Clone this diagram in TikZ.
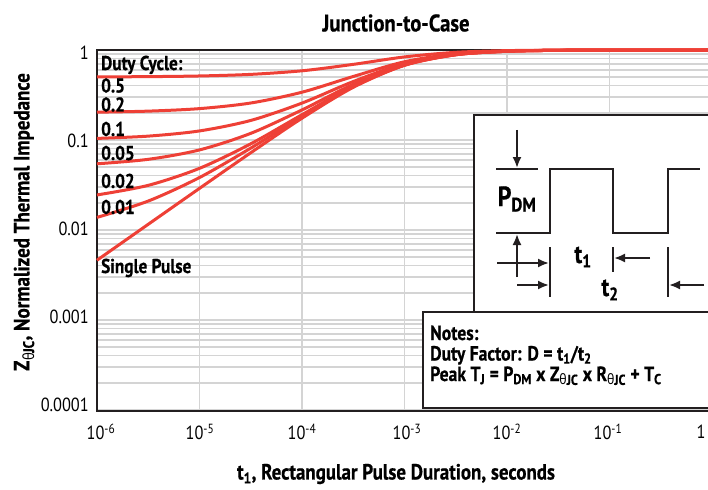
\documentclass[tikz,border=0pt]{standalone}
\usepackage{fontspec}
\setmainfont{PT Sans}[FakeStretch=0.86, BoldFeatures={FakeBold=0.6}]
\newfontfamily\grkfont{Noto Sans}[FakeStretch=0.86]
\usetikzlibrary{arrows.meta}
\definecolor{zred}{RGB}{238,64,54}
\definecolor{zgrid}{RGB}{212,212,212}
\definecolor{zblack}{RGB}{35,31,32}
\newcommand{\thjc}{\textsubscript{{\grkfont θ}JC}}

\begin{document}
\begin{tikzpicture}[x=1pt, y=-1pt,
    every node/.style={inner sep=0pt, font=\bfseries\fontsize{22}{24}\selectfont},
    tick/.style={font=\fontsize{19}{22}\selectfont},
    lbl/.style={anchor=base west, font=\bfseries\fontsize{20}{22}\selectfont},
    note/.style={anchor=base west, font=\bfseries\fontsize{20.5}{22}\selectfont},
    curve/.style={draw=zred, line width=3pt},
    gridline/.style={draw=zgrid, line width=1.3pt},
    frame/.style={draw=zblack, line width=2.6pt},
    box/.style={draw=zblack, fill=white, line width=2.4pt},
    wave/.style={draw=zblack, line width=2pt},
    dim/.style={->, >={Latex[length=11pt,width=9pt]}, draw=zblack, line width=2pt}]
\useasboundingbox (0,0) rectangle (708,489);
\clip (0,0) rectangle (708,489);

\begin{scope}[xshift=97pt, yshift=-50pt, x=102.5pt, y=90pt]
  \foreach \k in {1,...,4}
    \foreach \m in {1,...,9}
      \draw[gridline] (0,{log10(\m)-\k}) -- (6,{log10(\m)-\k});
  \foreach \e in {1,...,5}
    \draw[gridline] (\e,0) -- (\e,-4);
  \draw[frame] (6,0) -- (0,0) -- (0,-4.01) -- (6,-4.01);
  % duty cycle 0.5, 0.2, 0.1, 0.05, 0.02, 0.01, single pulse
  \draw[curve] plot[smooth] coordinates {(0,-0.2990) (0.5,-0.2960) (1,-0.2886) (1.5,-0.2708) (2,-0.2311) (2.5,-0.1597) (3,-0.0770) (3.5,-0.0258) (4,-0.0071) (4.5,-0.0018) (5,-0.0004) (6,0)};
  \draw[curve] plot[smooth] coordinates {(0,-0.6910) (0.5,-0.6793) (1,-0.6513) (1.5,-0.5889) (2,-0.4689) (2.5,-0.2943) (3,-0.1307) (3.5,-0.0420) (4,-0.0114) (4.5,-0.0030) (5,-0.0007) (6,0)};
  \draw[curve] plot[smooth] coordinates {(0,-0.9823) (0.5,-0.9569) (1,-0.8992) (1.5,-0.7827) (2,-0.5898) (2.5,-0.3504) (3,-0.1502) (3.5,-0.0475) (4,-0.0129) (4.5,-0.0033) (5,-0.0008) (6,0)};
  \draw[curve] plot[smooth] coordinates {(0,-1.2645) (0.5,-1.2147) (1,-1.1103) (1.5,-0.9261) (2,-0.6658) (2.5,-0.3815) (3,-0.1602) (3.5,-0.0503) (4,-0.0136) (4.5,-0.0035) (5,-0.0008) (6,0)};
  \draw[curve] plot[smooth] coordinates {(0,-1.6105) (0.5,-1.5038) (1,-1.3148) (1.5,-1.0423) (2,-0.7187) (2.5,-0.4012) (3,-0.1664) (3.5,-0.0520) (4,-0.0140) (4.5,-0.0036) (5,-0.0009) (6,0)};
  \draw[curve] plot[smooth] coordinates {(0,-1.8600) (0.5,-1.6783) (1,-1.4170) (1.5,-1.0902) (2,-0.7379) (2.5,-0.4080) (3,-0.1685) (3.5,-0.0526) (4,-0.0142) (4.5,-0.0037) (5,-0.0009) (6,0)};
  \draw[curve] plot[smooth] coordinates {(0,-2.3360) (0.5,-1.9364) (1,-1.5374) (1.5,-1.1417) (2,-0.7579) (2.5,-0.4148) (3,-0.1705) (3.5,-0.0532) (4,-0.0143) (4.5,-0.0037) (5,-0.0009) (6,0)};
\end{scope}

\node[font=\bfseries\fontsize{24}{26}\selectfont] (title) at (396,23) {Junction-to-Case};
\node[rotate=90] (ylab) at (24,222) {Z\thjc, Normalized Thermal Impedance};
\node (xlab) at (396,474) {t\textsubscript{1}, Rectangular Pulse Duration, seconds};

\foreach \v/\lab in {0/1, 1/0.1, 2/0.01, 3/0.001, 4/0.0001}
  \node[tick, anchor=east] (yt\v) at (89,53+88*\v) {\lab};
\foreach \px/\e in {101/6, 200/5, 302/4, 407/3, 507/2, 608/1}
  \node[tick] (xt\e) at (\px,432) {10\textsuperscript{-\e}};
\node[tick] (xt0) at (701,432) {1};

\node[lbl] (dc) at (101,70) {Duty Cycle:};
\node[lbl] (d5) at (101,92.5) {0.5};
\node[lbl] (d2) at (101,111.5) {0.2};
\node[lbl] (d1) at (101,136) {0.1};
\node[lbl] (d05) at (101,160) {0.05};
\node[lbl] (d02) at (101,188) {0.02};
\node[lbl] (d01) at (101,214) {0.01};
\node[lbl] (sp) at (101,273) {Single Pulse};

\draw[box] (474,115) rectangle (730,330);
\draw[wave] (496,233) -- (550,233) -- (550,169) -- (613,169) -- (613,233) -- (668,233) -- (668,169) -- (700,169);
\draw[wave] (496,169) -- (538,169);
\draw[wave] (550,247) -- (550,297) (613,247) -- (613,272) (668,247) -- (668,297);
\draw[dim] (517,130) -- (517,168);
\draw[dim] (517,277) -- (517,234);
\draw[dim] (497,263) -- (549,263);
\draw[dim] (517,285) -- (549,285);
\draw[dim] (650,258) -- (614,258);
\draw[dim] (704,285) -- (669,285);
\node[font=\bfseries\fontsize{28}{30}\selectfont] (pdm) at (517,199) {P\textsubscript{DM}};
\node[font=\bfseries\fontsize{26}{28}\selectfont] (tone) at (583,257) {t\textsubscript{1}};
\node[font=\bfseries\fontsize{26}{28}\selectfont] (ttwo) at (610,290) {t\textsubscript{2}};

\draw[box] (423,312) rectangle (730,408);
\node[note] (notes) at (430,340) {Notes:};
\node[note] (duty) at (430,360.5) {Duty Factor: D = t\textsubscript{1}/t\textsubscript{2}};
\node[note] (peak) at (430,381) {Peak T\textsubscript{J} = P\textsubscript{DM} x Z\thjc{} x R\thjc{} + T\textsubscript{C}};
\end{tikzpicture}
\end{document}
